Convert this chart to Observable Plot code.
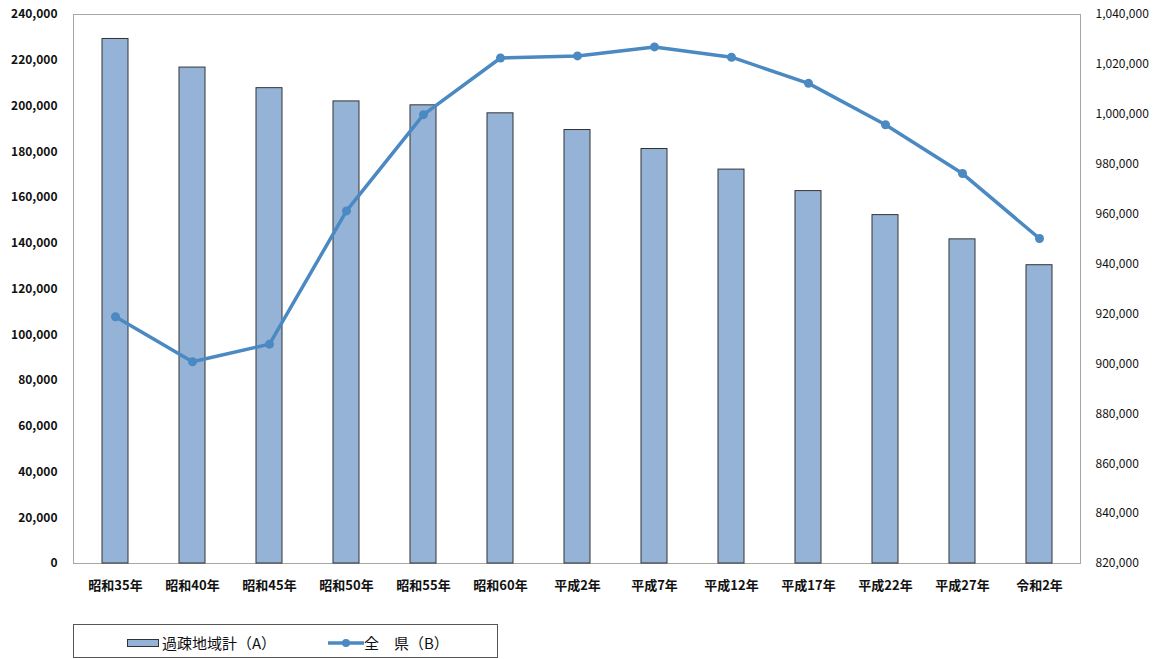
<!DOCTYPE html>
<html>
<head>
<meta charset="utf-8">
<script src="https://cdn.jsdelivr.net/npm/d3@7"></script>
<script src="https://cdn.jsdelivr.net/npm/@observablehq/plot@0.6"></script>
<style>
  body { margin: 0; background: #fff; }
  #wrap { position: relative; width: 1159px; height: 659px; overflow: hidden; font-family: 'Noto Sans CJK JP', sans-serif; }
  #legend { position: absolute; left: 73px; top: 624px; width: 423px; height: 32px; border: 1px solid #555; box-sizing: content-box; }
  .lg { position: absolute; font-size: 15px; color: #111; line-height: 15px; top: 10px; white-space: pre; }
  .sw { position: absolute; }
</style>
</head>
<body>
<div id="wrap">
  <div id="chart"></div>
  <div id="legend">
    <svg class="sw" style="left:53px;top:14px" width="32" height="9"><rect x="0.5" y="0.5" width="31" height="7" fill="#95b3d7" stroke="#333" stroke-width="1"/></svg>
    <span class="lg" style="left:88px">過疎地域計（A）</span>
    <svg class="sw" style="left:254px;top:12px" width="36" height="12"><line x1="0" y1="6" x2="36" y2="6" stroke="#4a89c2" stroke-width="3.5"/><circle cx="18" cy="6" r="4" fill="#4a89c2"/></svg>
    <span class="lg" style="left:290px">全　県（B）</span>
  </div>
</div>
<script>
const years = ["昭和35年","昭和40年","昭和45年","昭和50年","昭和55年","昭和60年","平成2年","平成7年","平成12年","平成17年","平成22年","平成27年","令和2年"];
const depopulated = [229300, 216800, 207800, 202000, 200300, 196800, 189500, 181200, 172200, 162800, 152300, 141700, 130400];
const prefTotal = [918867, 900845, 907897, 961292, 999864, 1022569, 1023412, 1027006, 1022890, 1012400, 995842, 976263, 950244];
const leftTicks = [0, 20000, 40000, 60000, 80000, 100000, 120000, 140000, 160000, 180000, 200000, 220000, 240000];
const rightTicks = [820000, 840000, 860000, 880000, 900000, 920000, 940000, 960000, 980000, 1000000, 1020000, 1040000];

const R0 = 820000, R1 = 1040000, L1 = 240000;
const toLeft = v => (v - R0) * L1 / (R1 - R0);
const fromLeft = v => Math.round(v * (R1 - R0) / L1 + R0);
const fmt = d3.format(",");
const data = years.map((y, i) => ({year: y, a: depopulated[i], b: toLeft(prefTotal[i])}));

const chart = Plot.plot({
  width: 1159,
  height: 659,
  marginLeft: 73,
  marginRight: 79,
  marginTop: 14,
  marginBottom: 96,
  style: {fontFamily: "'Noto Sans CJK JP', sans-serif", background: "white", color: "#111"},
  x: {domain: years, paddingInner: 0.665, paddingOuter: 0.3325, axis: null},
  y: {domain: [0, 240000], axis: null},
  marks: [
    Plot.frame({stroke: "#a6a6a6"}),
    Plot.barY(data, {x: "year", y: "a", fill: "#95b3d7", stroke: "#333", strokeWidth: 1}),
    Plot.line(data, {x: "year", y: "b", stroke: "#4a89c2", strokeWidth: 3.5}),
    Plot.dot(data, {x: "year", y: "b", fill: "#4a89c2", r: 4.5}),
    Plot.axisX({tickSize: 0, tickPadding: 17, fontSize: 13, fontWeight: "bold", label: null}),
    Plot.axisY(leftTicks, {tickSize: 0, tickPadding: 16, tickFormat: fmt, fontSize: 12, fontWeight: "bold", label: null}),
    Plot.axisY(rightTicks.map(toLeft), {anchor: "right", tickSize: 0, tickPadding: 15, tickFormat: v => fmt(fromLeft(v)), fontSize: 12, label: null})
  ]
});
document.getElementById("chart").appendChild(chart);
</script>
</body>
</html>
